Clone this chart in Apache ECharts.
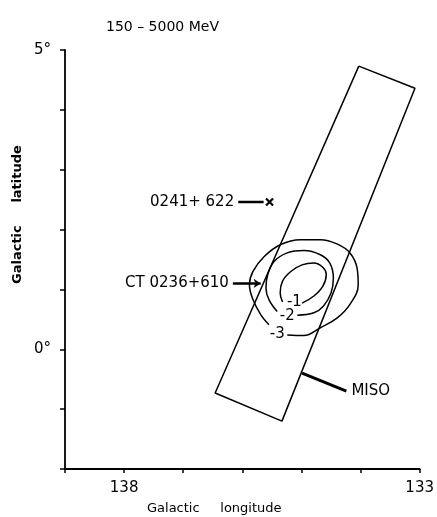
<!DOCTYPE html>
<html>
<head>
<meta charset="utf-8">
<script src="https://cdn.jsdelivr.net/npm/echarts@6/dist/echarts.min.js"></script>
<style>html,body{margin:0;padding:0;background:#fff}#c{width:437px;height:517px}</style>
</head>
<body>
<div id="c"></div>
<script>
// ---- data (galactic longitude, latitude in degrees) ----
const titleText = '150 – 5000 MeV';
const xLabelValues = [138, 133];
const yLabelValues = [5, 0];
const yLabelTexts = ['5°', '0°'];

// MISO field of view (closed polygon)
const misoLon = [134.03, 133.08, 135.33, 136.46, 134.03];
const misoLat = [4.73, 4.36, -1.20, -0.73, 4.73];

// likelihood contours
const c3Lon = [135.24,134.96,134.68,134.40,134.18,134.04,134.06,134.18,134.40,134.68,135.02,135.35,135.63,135.82,135.88,135.82,135.69,135.55];
const c3Lat = [0.24,0.23,0.36,0.52,0.75,1.08,1.36,1.61,1.76,1.83,1.83,1.75,1.55,1.30,1.08,0.83,0.58,0.41];
const c2Lon = [135.07,134.79,134.63,134.50,134.46,134.52,134.68,134.96,135.24,135.46,135.57,135.60,135.55,135.41];
const c2Lat = [0.57,0.61,0.72,0.94,1.19,1.44,1.58,1.65,1.61,1.47,1.25,1.02,0.83,0.63];
const c1Lon = [134.99,134.79,134.64,134.58,134.64,134.79,134.99,135.18,135.32,135.36,135.32];
const c1Lat = [0.77,0.89,1.05,1.25,1.37,1.44,1.41,1.30,1.14,0.94,0.79];

const contourLabels = ['-1', '-2', '-3'];
const contourLabelLon = [135.12, 135.24, 135.41];
const contourLabelLat = [0.79, 0.56, 0.26];

// sources
const sourceNames = ['0241+ 622', 'CT 0236+610'];
const sourceLon = [135.54, 135.69];
const sourceLat = [2.46, 1.10];
const leaderStartLon = [136.07, 136.16];
const leaderEndLon = [135.64, 135.69];

// MISO label leader
const misoLabel = 'MISO';
const misoLeaderLon = [134.99, 134.24];
const misoLeaderLat = [-0.40, -0.70];

const zip = (a, b) => a.map((v, i) => [v, b[i]]);
const FONT = 'DejaVu Sans';
const ink = '#000';

const chart = echarts.init(document.getElementById('c'), null, {renderer: 'canvas'});
const lineS = (lon, lat, w, smooth) => ({
  type: 'line', data: zip(lon, lat), showSymbol: false, symbol: 'none',
  smooth: smooth || false, lineStyle: {color: ink, width: w, opacity: 1}, silent: true, z: 3
});

chart.setOption({
  animation: false,
  backgroundColor: '#fff',
  title: {
    text: titleText, left: 101, top: 15,
    textStyle: {fontFamily: FONT, fontSize: 14, fontWeight: 'normal', color: ink}
  },
  grid: {left: 65, right: 13, top: 50, bottom: 48, containLabel: false},
  xAxis: {
    type: 'value', min: 133, max: 139, interval: 1, inverse: true,
    axisLine: {show: true, onZero: false, lineStyle: {color: ink, width: 1.8}},
    axisTick: {show: true, inside: false, length: 4, lineStyle: {color: ink, width: 1.5}},
    axisLabel: {
      margin: 12, fontFamily: FONT, fontSize: 15, color: ink,
      formatter: v => xLabelValues.includes(v) ? String(v) : ''
    },
    splitLine: {show: false}
  },
  yAxis: {
    type: 'value', min: -2, max: 5, interval: 1,
    axisLine: {show: true, onZero: false, lineStyle: {color: ink, width: 1.8}},
    axisTick: {show: true, inside: false, length: 5, lineStyle: {color: ink, width: 1.5}},
    axisLabel: {
      margin: 14, fontFamily: FONT, fontSize: 15, color: ink,
      formatter: v => { const i = yLabelValues.indexOf(v); return i >= 0 ? yLabelTexts[i] : ''; }
    },
    splitLine: {show: false}
  },
  graphic: [
    {type: 'text', left: 147, top: 502,
     style: {text: 'Galactic     longitude', font: '13px "' + FONT + '"', fill: ink}},
    {type: 'text', x: 11, y: 284, rotation: Math.PI / 2,
     style: {text: 'Galactic     latitude', font: 'bold 13px "' + FONT + '"', fill: ink}}
  ],
  series: [
    lineS(misoLon, misoLat, 1.5),
    lineS(c3Lon, c3Lat, 1.5, 0.4),
    lineS(c2Lon, c2Lat, 1.5, 0.4),
    lineS(c1Lon, c1Lat, 1.5, 0.4),
    {
      type: 'scatter', symbolSize: 0, silent: true, z: 5,
      itemStyle: {opacity: 1},
      data: contourLabels.map((t, i) => ({value: [contourLabelLon[i], contourLabelLat[i]], name: t})),
      label: {show: true, position: 'inside', formatter: p => p.name,
              fontFamily: FONT, fontSize: 15, color: ink, backgroundColor: '#fff', padding: [0, 0]}
    },
    // leader for 0241+622
    lineS([leaderStartLon[0], leaderEndLon[0]], [sourceLat[0], sourceLat[0]], 2.5),
    // leader for MISO
    lineS(misoLeaderLon, misoLeaderLat, 3),
    {
      type: 'lines', coordinateSystem: 'cartesian2d', silent: true, z: 4,
      symbol: ['none', 'arrow'], symbolSize: 7,
      lineStyle: {color: ink, width: 2.5, opacity: 1},
      itemStyle: {color: ink},
      data: [{coords: [[leaderStartLon[1], sourceLat[1]], [leaderEndLon[1], sourceLat[1]]]}]
    },
    {
      type: 'scatter', silent: true, z: 5,
      symbol: 'path://M0,0L10,10M10,0L0,10', symbolSize: 7,
      itemStyle: {color: 'none', borderColor: ink, borderWidth: 2.2, opacity: 1},
      data: [[sourceLon[0], sourceLat[0]]]
    },
    {
      type: 'scatter', symbolSize: 0, silent: true, z: 5,
      itemStyle: {opacity: 1},
      data: sourceNames.map((t, i) => ({value: [leaderStartLon[i], sourceLat[i]], name: t})),
      label: {show: true, position: 'left', distance: 4, formatter: p => p.name,
              fontFamily: FONT, fontSize: 15, color: ink}
    },
    {
      type: 'scatter', symbolSize: 0, silent: true, z: 5,
      itemStyle: {opacity: 1},
      data: [{value: [misoLeaderLon[1], misoLeaderLat[1]], name: misoLabel}],
      label: {show: true, position: 'right', distance: 5, formatter: p => p.name,
              fontFamily: FONT, fontSize: 15, color: ink}
    }
  ]
});
</script>
</body>
</html>
